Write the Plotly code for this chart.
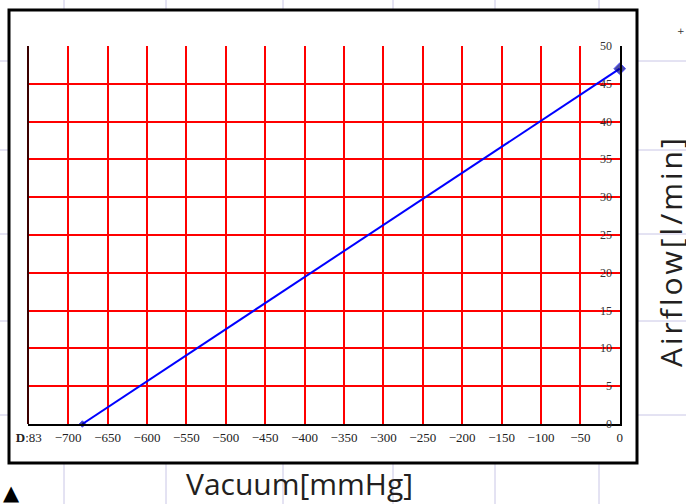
import plotly.graph_objects as go

# Data
vacuum = [-682, 0]          # mmHg
airflow = [0, 47]           # l/min
x_tickvals = list(range(-750, 1, 50))
x_ticktext = ["<b>D</b>:83"] + ["\u2212" + str(abs(v)) for v in range(-700, 0, 50)] + ["0"]
y_tickvals = list(range(0, 51, 5))
y_ticktext = [str(v) for v in y_tickvals]
x_title = "Vacuum[mmHg]"
y_title = "Airflow[l/min]"

W, H = 686, 504
L, R, T, B = 28, 620, 46, 424
pw, ph = R - L, B - T

def px(xp):
    return (xp - L) / pw

def py(yp):
    return (B - yp) / ph

fig = go.Figure()
fig.add_trace(go.Scatter(
    x=vacuum, y=airflow, mode="lines+markers",
    line=dict(color="#0000ff", width=2),
    marker=dict(symbol="diamond", size=[5, 9], color="#000080"),
    cliponaxis=False, showlegend=False,
))

shapes = []
# faint page grid lines
for xv in [64, 166, 283, 393, 495, 599]:
    shapes.append(dict(type="line", xref="paper", yref="paper", x0=px(xv), x1=px(xv),
                       y0=py(0), y1=py(H), line=dict(color="#c9c6e6", width=1), layer="below"))
for yv in [61, 150, 234, 321, 415]:
    shapes.append(dict(type="line", xref="paper", yref="paper", x0=px(0), x1=px(W),
                       y0=py(yv), y1=py(yv), line=dict(color="#c9c6e6", width=1), layer="below"))
# outer frame
shapes.append(dict(type="rect", xref="paper", yref="paper", x0=px(9), x1=px(637),
                   y0=py(463), y1=py(10), line=dict(color="black", width=3),
                   fillcolor="white", layer="below"))
# left border of plot area
shapes.append(dict(type="line", xref="paper", yref="paper", x0=0, x1=0, y0=0, y1=1,
                   line=dict(color="#3a0000", width=2), layer="above"))

spaced_y_title = "\u200a".join(y_title)

annotations = [
    dict(text=x_title, xref="paper", yref="paper", x=px(299), y=py(483),
         showarrow=False, font=dict(family="Open Sans", size=30, color="#231f20"),
         xanchor="center", yanchor="middle"),
    dict(text=spaced_y_title, xref="paper", yref="paper", x=px(670), y=py(253),
         showarrow=False, textangle=-90,
         font=dict(family="Open Sans", size=30, color="#231f20"),
         xanchor="center", yanchor="middle"),
    dict(text="\u25b2", xref="paper", yref="paper", x=px(11), y=py(493),
         showarrow=False, font=dict(family="DejaVu Sans", size=21, color="black"),
         xanchor="center", yanchor="middle"),
    dict(text="+", xref="paper", yref="paper", x=px(681), y=py(31),
         showarrow=False, font=dict(family="DejaVu Sans", size=9, color="#333"),
         xanchor="center", yanchor="middle"),
]
# y tick labels drawn inside the plot, just left of the right axis
for v, t in zip(y_tickvals, y_ticktext):
    annotations.append(dict(text=t, xref="paper", yref="y", x=1, y=v, xshift=-6,
                            showarrow=False, xanchor="right", yanchor="middle",
                            font=dict(family="Liberation Serif", size=12, color="#333")))

fig.update_layout(
    width=W, height=H,
    margin=dict(l=L, r=W - R, t=T, b=H - B, autoexpand=False),
    paper_bgcolor="white", plot_bgcolor="white",
    shapes=shapes,
    annotations=annotations,
    xaxis=dict(range=[-751, 0.3], tickvals=x_tickvals, ticktext=x_ticktext,
               showgrid=True, gridcolor="#ff0000", gridwidth=2,
               showline=True, linecolor="black", linewidth=2,
               zeroline=False, ticks="", automargin=False,
               tickfont=dict(family="Liberation Serif", size=13, color="#222"),
               fixedrange=True),
    yaxis=dict(range=[0, 50], tickvals=y_tickvals, side="right",
               showticklabels=False,
               showgrid=True, gridcolor="#ff0000", gridwidth=2,
               showline=True, linecolor="black", linewidth=2,
               zeroline=False, ticks="", automargin=False,
               fixedrange=True),
)

fig.write_html("out.html",
               config={"displayModeBar": False},
               post_script="document.body.style.margin='0';document.body.style.overflow='hidden';")
